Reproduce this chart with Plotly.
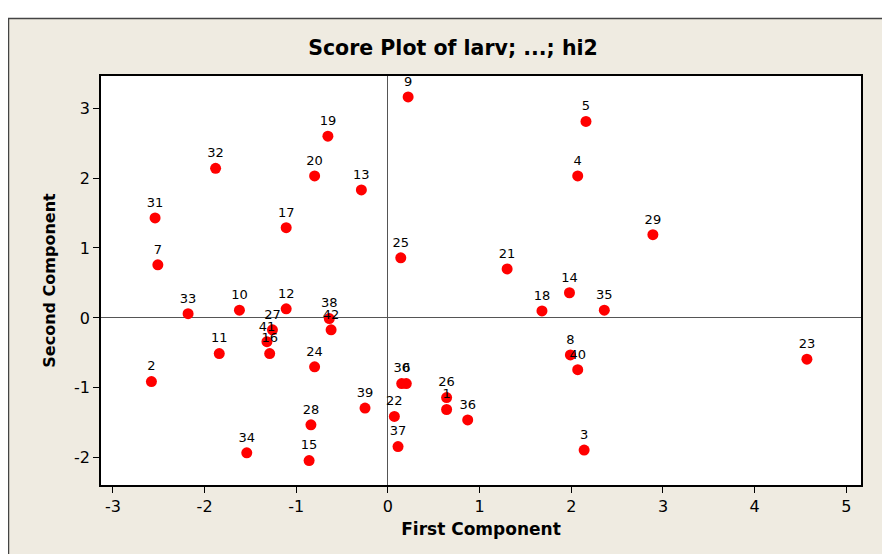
import plotly.graph_objects as go

labels = ["9","5","19","32","20","4","13","31","17","29","7","25","21","14","18","35",
          "33","10","12","27","38","42","41","16","11","24","2","23","8","40","30","6",
          "26","1","36","39","22","28","37","3","34","15"]
first_comp = [0.22,2.16,-0.655,-1.88,-0.80,2.07,-0.29,-2.54,-1.11,2.89,-2.51,0.14,1.30,1.98,1.68,2.36,
              -2.18,-1.62,-1.11,-1.26,-0.64,-0.62,-1.32,-1.29,-1.84,-0.80,-2.58,4.57,1.99,2.07,0.15,0.20,
              0.64,0.64,0.87,-0.25,0.07,-0.84,0.11,2.14,-1.54,-0.86]
second_comp = [3.16,2.81,2.60,2.14,2.03,2.03,1.83,1.43,1.29,1.19,0.76,0.86,0.70,0.36,0.10,0.11,
               0.06,0.11,0.13,-0.17,-0.01,-0.17,-0.34,-0.51,-0.51,-0.70,-0.91,-0.59,-0.53,-0.74,-0.94,-0.94,
               -1.14,-1.31,-1.46,-1.29,-1.41,-1.53,-1.84,-1.89,-1.93,-2.04]
x_ticks = [-3,-2,-1,0,1,2,3,4,5]
x_tick_text = ["-3","-2","-1","0","1","2","3","4","5"]
y_ticks = [-2,-1,0,1,2,3]
y_tick_text = ["-2","-1","0","1","2","3"]

BEIGE = "#EFEBE1"
OFF = 8  # page body margin
W, H = 890 - OFF, 554 - OFF
L, T, R, B = 101 - OFF, 76 - OFF, 861 - OFF, 485 - OFF

fig = go.Figure()
fig.add_trace(go.Scatter(
    x=first_comp, y=second_comp, mode="markers+text", text=labels,
    textposition="top center",
    textfont=dict(family="DejaVu Sans", size=13, color="black"),
    marker=dict(color="#FF0000", size=11, line=dict(width=0)),
    cliponaxis=False, hoverinfo="skip", showlegend=False))

axis_common = dict(showline=True, linecolor="black", linewidth=1.5, mirror=True,
                   ticks="outside", ticklen=6, tickcolor="black", showgrid=False,
                   zeroline=True, zerolinecolor="#555555", zerolinewidth=1.2,
                   tickfont=dict(family="DejaVu Sans", size=16, color="black"))
fig.update_xaxes(range=[-3.13, 5.16], tickvals=x_ticks, ticktext=x_tick_text,
                 title=dict(text="<b>First Component</b>", standoff=8,
                            font=dict(family="DejaVu Sans", size=17, color="black")),
                 **axis_common)
fig.update_yaxes(range=[-2.39, 3.46], tickvals=y_ticks, ticktext=y_tick_text,
                 title=dict(text="<b>Second Component</b>", standoff=14,
                            font=dict(family="DejaVu Sans", size=16, color="black")),
                 **axis_common)

pw, ph = R - L, B - T
def px(xp): return (xp - OFF - L) / pw
def py(yp): return (B - (yp - OFF)) / ph

fig.update_layout(
    width=W, height=H,
    margin=dict(l=L, r=W - R, t=T, b=H - B),
    paper_bgcolor=BEIGE, plot_bgcolor="white",
    title=dict(text="<b>Score Plot of larv; ...; hi2</b>", x=(453 - OFF) / W, xanchor="center",
               y=1 - (48 - OFF) / H, yanchor="middle",
               font=dict(family="DejaVu Sans", size=20.5, color="black")),
    shapes=[
        dict(type="rect", xref="paper", yref="paper", x0=px(0), x1=px(900), y0=py(18), y1=py(0),
             fillcolor="white", line=dict(width=0)),
        dict(type="rect", xref="paper", yref="paper", x0=px(0), x1=px(8), y0=py(560), y1=py(0),
             fillcolor="white", line=dict(width=0)),
        dict(type="rect", xref="paper", yref="paper", x0=px(8.5), x1=px(895), y0=py(560), y1=py(18.5),
             fillcolor="rgba(0,0,0,0)", line=dict(color="#444444", width=1.5)),
    ],
)
fig.write_html("out.html")
